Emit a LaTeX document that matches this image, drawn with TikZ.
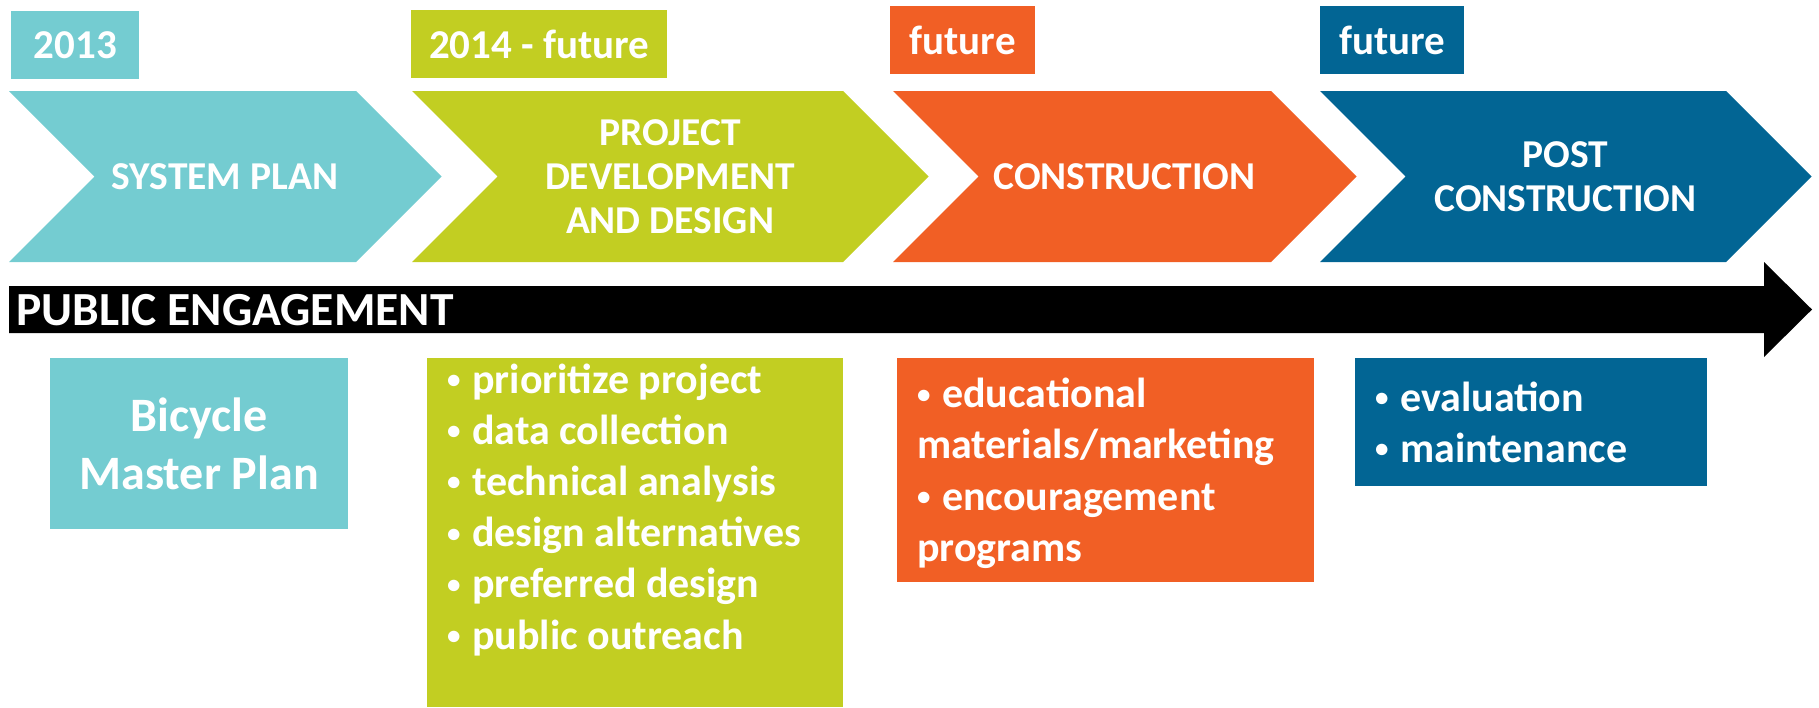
\documentclass[tikz,border=0pt]{standalone}
\usepackage{fontspec}
\setmainfont{Carlito}
\usetikzlibrary{positioning}

\definecolor{planteal}{RGB}{116,204,209}
\definecolor{designgreen}{RGB}{194,206,34}
\definecolor{buildorange}{RGB}{241,95,37}
\definecolor{postblue}{RGB}{2,101,148}

% small list bullet with a fixed gap after it
\newcommand{\dotmark}{\makebox[25pt][l]{\raisebox{4.5pt}{\fontsize{27}{27}\selectfont\textbullet}}}

\begin{document}
\begin{tikzpicture}[x=1pt,y=-1pt,
        yearbox/.style={anchor=north west,inner sep=0pt,minimum height=68pt,text=white,font=\bfseries\fontsize{41}{48}\selectfont},
        phase/.style={align=center,inner sep=0pt,text=white,font=\bfseries\fontsize{39.5}{44}\selectfont},
        panel/.style={anchor=north west,inner sep=0pt},
        listline/.style={anchor=base west,inner sep=0pt,text=white,font=\bfseries\fontsize{42}{50}\selectfont}]
    \useasboundingbox (0,0) rectangle (1819,707);
    % phase chevrons, left end / flat end / colour
    \foreach \l/\r/\c in {9/356/planteal,412/843/designgreen,893/1271/buildorange,1320/1726/postblue}
        \fill[\c] (\l,91) -- (\r,91) -- (\r+85.5,176.5) -- (\r,262) -- (\l,262) -- (\l+85.5,176.5) -- cycle;
    \node[phase] (sysplan) at (225,176.5) {SYSTEM PLAN};
    \node[phase] (devplan) at (670,176.5) {PROJECT\\DEVELOPMENT\\AND DESIGN};
    \node[phase] (build) at (1124.5,176.5) {CONSTRUCTION};
    \node[phase] (postbuild) at (1565.5,176.5) {POST\\CONSTRUCTION};
    % years
    \node[yearbox,fill=planteal,minimum width=128pt] (y2013) at (11,11) {2013};
    \node[yearbox,fill=designgreen,minimum width=256pt] (y2014) at (411,10) {2014 - future};
    \node[yearbox,fill=buildorange,minimum width=145pt] (ybuild) at (890,6) {future};
    \node[yearbox,fill=postblue,minimum width=144pt] (ypost) at (1320,6) {future};
    % engagement arrow
    \fill (9,286) -- (1764,286) -- (1764,262) -- (1812,309.5) -- (1764,357) -- (1764,333) -- (9,333) -- cycle;
    \node[anchor=base west,inner sep=0pt,text=white,font=\bfseries\fontsize{47.5}{50}\selectfont] (engage) at (16,325) {PUBLIC ENGAGEMENT};
    % detail panels
    \node[panel,fill=planteal,minimum width=298pt,minimum height=171pt,align=center,text=white,
        font=\bfseries\fontsize{48}{58}\selectfont] (master) at (50,358) {Bicycle\\Master Plan};
    \node[panel,fill=designgreen,minimum width=416pt,minimum height=349pt] (devbox) at (427,358) {};
    \node[panel,fill=buildorange,minimum width=417pt,minimum height=224pt] (buildbox) at (897,358) {};
    \node[panel,fill=postblue,minimum width=352pt,minimum height=128pt] (postbox) at (1355,358) {};
    \foreach \t [count=\i] in {prioritize project,data collection,technical analysis,design alternatives,preferred design,public outreach}
        \node[listline] (dev\i) at (447,341.8+51.2*\i) {\dotmark\t};
    \foreach \t [count=\i] in {\dotmark educational,{materials/marketing},\dotmark encouragement,programs}
        \node[listline] (build\i) at (917,356.2+51.3*\i) {\t};
    \foreach \t [count=\i] in {evaluation,maintenance}
        \node[listline] (post\i) at (1375,360+51*\i) {\dotmark\t};
\end{tikzpicture}
\end{document}
